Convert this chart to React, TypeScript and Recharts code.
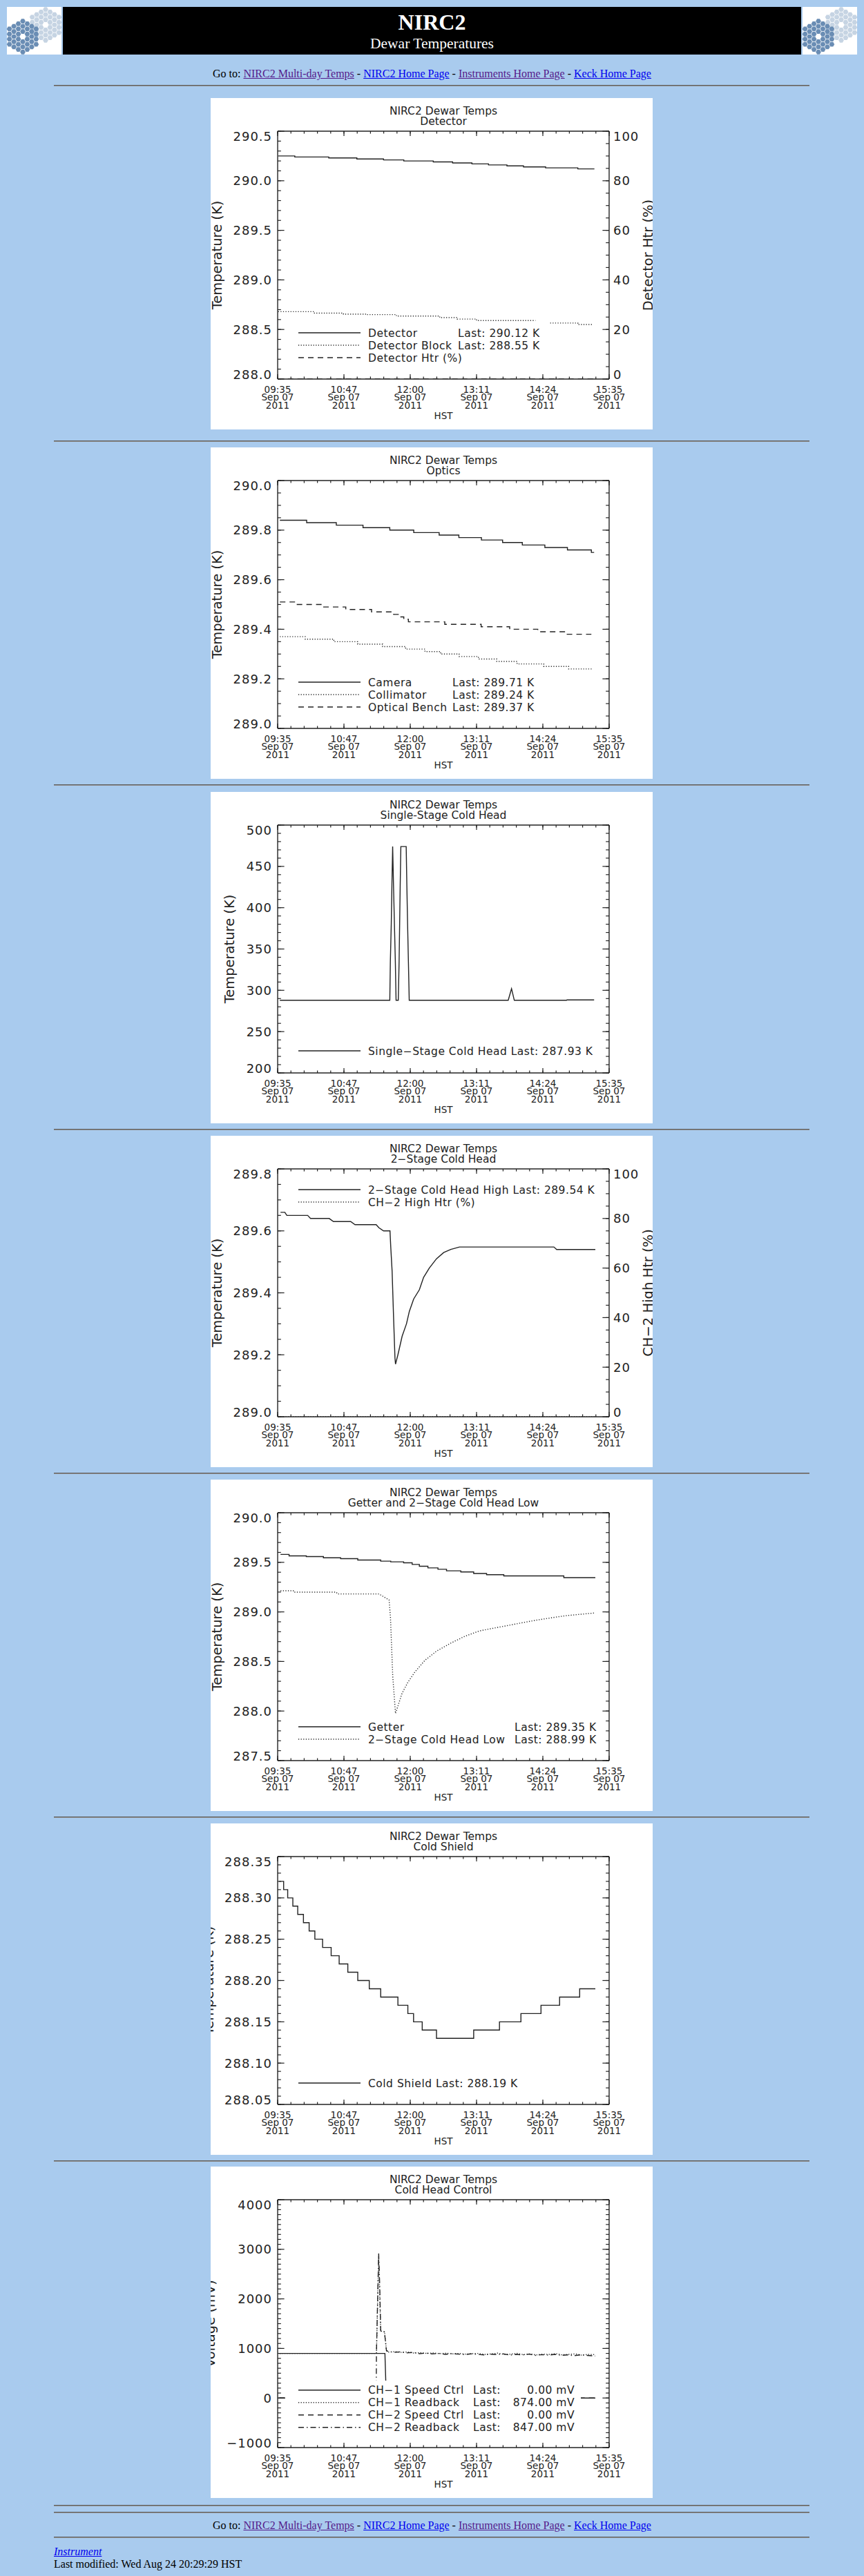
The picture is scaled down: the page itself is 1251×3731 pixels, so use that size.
import React from 'react'
import { LineChart, Line, XAxis, YAxis } from 'recharts'

type Pt = [number, number | null]

// time axis: minutes after 09:35 HST, Sep 07 2011
const timeTicks = [0, 72, 144, 216, 288, 360]
const timeLabels = ['09:35', '10:47', '12:00', '13:11', '14:24', '15:35']
const dateLabel = 'Sep 07'
const yearLabel = '2011'
const pctTicks = [0, 20, 40, 60, 80, 100]

// 1. Detector
const detectorTicks = [288.0, 288.5, 289.0, 289.5, 290.0, 290.5]
const detector: Pt[] = [[0.5, 290.25], [18.6, 290.24], [55.5, 290.23], [86, 290.22], [115, 290.21], [137, 290.2], [169, 290.19], [190, 290.18], [211, 290.17], [229, 290.16], [249, 290.15], [267, 290.14], [291, 290.13], [326, 290.12], [344, 290.12]]
const detectorBlock: Pt[] = [[0.5, 288.68], [40, 288.665], [71.5, 288.655], [97, 288.65], [129, 288.635], [176, 288.62], [195, 288.605], [216, 288.59], [280, 288.59], [280.5, null], [296, 288.565], [326, 288.55], [342, 288.55]]
const detectorHtr: Pt[] = [[0.5, 0], [344, 0]]

// 2. Optics
const opticsTicks = [289.0, 289.2, 289.4, 289.6, 289.8, 290.0]
const camera: Pt[] = [[2.4, 289.84], [31.5, 289.83], [63.7, 289.82], [92.7, 289.81], [121.8, 289.8], [147.8, 289.79], [175.4, 289.78], [196.8, 289.77], [221.3, 289.76], [244.3, 289.75], [265.7, 289.74], [290.2, 289.73], [314.7, 289.72], [340.7, 289.71], [343.7, 289.71]]
const collimator: Pt[] = [[2.4, 289.37], [30, 289.36], [61, 289.35], [87, 289.34], [114, 289.33], [139, 289.32], [160, 289.31], [177, 289.3], [197, 289.29], [218, 289.28], [238, 289.27], [260, 289.26], [289, 289.25], [316, 289.24], [342, 289.24]]
const opticalBench: Pt[] = [[2.4, 289.51], [19.3, 289.5], [50, 289.49], [74, 289.48], [102, 289.47], [126, 289.46], [131, 289.45], [137, 289.44], [142, 289.43], [181.5, 289.42], [221, 289.41], [252, 289.4], [282.5, 289.39], [313, 289.38], [340.7, 289.38]]

// 3. Single-stage cold head
const singleTicks = [200, 250, 300, 350, 400, 450, 500]
const singleStage: Pt[] = [[2.4, 287.9], [121.8, 287.9], [122.4, 335], [123.4, 381], [124.1, 428], [124.9, 474], [125.8, 428], [126.8, 381], [127.8, 335], [128.6, 287.9], [131, 287.9], [131.9, 335], [132.5, 381], [133.1, 428], [133.8, 474], [139.6, 474], [140.3, 428], [141.1, 381], [142, 335], [142.9, 287.9], [250.4, 287.9], [254, 302], [257, 287.9], [313.7, 287.9], [314.2, 288.4], [343.7, 288.4]]

// 4. 2-stage cold head
const stage2Ticks = [289.0, 289.2, 289.4, 289.6, 289.8]
const coldHeadHigh: Pt[] = [[3.1, 289.66], [7.8, 289.66], [10, 289.65], [32.6, 289.65], [35.7, 289.64], [56, 289.64], [60.6, 289.63], [79.3, 289.63], [84, 289.62], [107, 289.62], [110, 289.61], [115, 289.6], [122, 289.6], [122.8, 289.55], [124.3, 289.47], [125.9, 289.32], [127.4, 289.19], [128, 289.17], [130.6, 289.2], [135.2, 289.26], [139.9, 289.3], [143, 289.34], [147.7, 289.38], [153.9, 289.41], [158.5, 289.45], [164.7, 289.48], [172.5, 289.51], [180.3, 289.53], [188, 289.54], [197.4, 289.548], [300, 289.548], [303, 289.54], [345, 289.54]]
const highHtr: Pt[] = [[3.1, 0], [345, 0]]

// 5. Getter and 2-stage cold head low
const getterTicks = [287.5, 288.0, 288.5, 289.0, 289.5, 290.0]
const getter: Pt[] = [[3.1, 289.58], [12.4, 289.565], [31.1, 289.558], [49.7, 289.546], [68.4, 289.537], [87, 289.523], [111.9, 289.512], [122.8, 289.505], [136.8, 289.495], [146.1, 289.479], [153.9, 289.46], [163.2, 289.444], [174.1, 289.43], [183.4, 289.414], [198.9, 289.403], [212.9, 289.387], [226.9, 289.375], [245.6, 289.363], [310.8, 289.345], [345, 289.345]]
const coldHeadLow: Pt[] = [[3.1, 289.213], [17, 289.213], [17.5, 289.199], [63.7, 289.199], [65, 289.181], [110, 289.181], [121, 289.12], [122.5, 288.95], [125, 288.35], [128, 287.975], [130.6, 288.05], [135, 288.176], [141.4, 288.29], [149.2, 288.396], [160, 288.512], [172.5, 288.604], [188, 288.685], [203.6, 288.755], [219.1, 288.808], [234.7, 288.836], [250.2, 288.863], [265.8, 288.891], [281.3, 288.917], [296.9, 288.94], [312.4, 288.961], [328, 288.975], [345, 288.99]]

// 6. Cold shield
const shieldTicks = [288.05, 288.1, 288.15, 288.2, 288.25, 288.3, 288.35]
const coldShield: Pt[] = [[1.6, 288.32], [6.5, 288.31], [10.9, 288.3], [16.5, 288.29], [21.8, 288.28], [28, 288.27], [34.2, 288.26], [40.4, 288.25], [48.8, 288.24], [58.1, 288.23], [66.8, 288.22], [76.2, 288.21], [87, 288.2], [99.5, 288.19], [111.9, 288.18], [130.6, 288.17], [141.4, 288.16], [147.6, 288.15], [157, 288.14], [172.5, 288.13], [212.9, 288.14], [240.9, 288.15], [264.2, 288.16], [286, 288.17], [306.2, 288.18], [328, 288.19], [345, 288.19]]

// 7. Cold head control (mV)
const voltTicks = [-1000, 0, 1000, 2000, 3000, 4000]
const ch1Speed: Pt[] = [[2, 900], [116.5, 900], [118, 0], [345, 0]]
const ch1Readback: Pt[] = [[2, 900], [107.3, 900], [109.7, 2850], [111.9, 1350], [116, 1340], [118.2, 960], [120, 925], [127, 935], [134, 920], [141, 930], [148, 905], [155, 915], [162, 900], [169, 910], [176, 895], [183, 905], [190, 890], [197, 900], [204, 885], [211, 895], [218, 900], [225, 880], [232, 890], [239, 905], [246, 880], [253, 885], [260, 900], [267, 875], [274, 890], [281, 870], [288, 885], [295, 880], [302, 895], [309, 870], [316, 880], [323, 890], [330, 865], [337, 880], [345, 874]]
const ch2Speed: Pt[] = [[2, 0], [345, 0]]
const ch2Readback: Pt[] = [[2, 0], [107, 0], [107.3, 900], [109.7, 2920], [110.8, 2300], [111.9, 1350], [116, 1330], [118.2, 950], [120, 940], [126, 920], [133, 930], [140, 910], [147, 920], [154, 895], [161, 905], [168, 890], [175, 900], [182, 880], [189, 895], [196, 885], [203, 875], [210, 890], [217, 880], [224, 870], [231, 885], [238, 875], [245, 890], [252, 865], [259, 880], [266, 870], [273, 885], [280, 860], [287, 875], [294, 865], [301, 880], [308, 860], [315, 870], [322, 855], [329, 870], [336, 860], [345, 847]]

const INK = '#222'
const SANS = '"DejaVu Sans", Verdana, sans-serif'
const SERIF = '"Liberation Serif", "Times New Roman", serif'
const W = 640
const H = 480
const PX0 = 97
const PX1 = 577
const PY0 = 48
const PY1 = 407
const DASH: Record<string, string | undefined> = {
  solid: undefined,
  dot: '1.2 2.4',
  dash: '8 6',
  dashdot: '8 4 1.5 4',
}

function minorTicks(major: number[], n: number) {
  const step = (major[1] - major[0]) / n
  const lo = major[0]
  const hi = major[major.length - 1]
  const out: number[] = []
  for (let v = lo; v <= hi + step / 2; v += step) out.push(+v.toFixed(6))
  return out
}

const EmptyTick = () => <g />

const TimeTick = (p: any) => {
  const i = timeTicks.indexOf(p.payload.value)
  return (
    <text x={p.x} y={p.y} textAnchor="middle" fontFamily={SANS} fontSize={13.5} fill={INK}>
      <tspan x={p.x} dy={19.7}>{timeLabels[i]}</tspan>
      <tspan x={p.x} dy={11.6}>{dateLabel}</tspan>
      <tspan x={p.x} dy={11.7}>{yearLabel}</tspan>
    </text>
  )
}

function yTick(ticks: number[], digits: number, side: 'l' | 'r') {
  const lo = ticks[0]
  const hi = ticks[ticks.length - 1]
  return (p: any) => {
    const v = p.payload.value
    let shift = 0
    if (Math.abs(v - hi) < 1e-9) shift = 7.5
    if (Math.abs(v - lo) < 1e-9) shift = -6.5
    const txt = v < 0 ? '\u2212' + Math.abs(v).toFixed(digits) : v.toFixed(digits)
    return (
      <text x={p.x} y={p.y + shift + 6.6} textAnchor={side === 'l' ? 'end' : 'start'}
        fontFamily={SANS} fontSize={18} letterSpacing={1} fill={INK}>
        {txt}
      </text>
    )
  }
}

type Axis = { ticks: number[]; minor: number; digits: number }
type Series = { pts: Pt[]; style: string; curve: 'linear' | 'stepAfter'; right?: boolean }
type LegendDef = {
  names: string[]
  styles: string[]
  lasts?: string[]
  lastX?: number
  values?: string[]
  top: number
  box?: [number, number, number, number]
}
type PanelProps = {
  top: number
  subtitle: string
  yTitle: string
  yTitleX: number
  left: Axis
  right?: Axis
  rightTitle?: string
  series: Series[]
  legend: LegendDef
}

function Legend({ lg }: { lg: LegendDef }) {
  return (
    <g fontFamily={SANS} fontSize={15.5} letterSpacing={0.5} fill={INK}>
      {lg.box && <rect x={lg.box[0]} y={lg.box[1]} width={lg.box[2]} height={lg.box[3]} fill="#fff" />}
      {lg.names.map((name, i) => {
        const cy = lg.top + i * 18
        const last = lg.lasts ? lg.lasts[i] : ''
        return (
          <g key={i}>
            <line x1={127} x2={217} y1={cy} y2={cy} stroke={INK} strokeWidth={1.4} strokeDasharray={DASH[lg.styles[i]]} />
            <text x={228} y={cy + 5.6}>{lg.lastX || !last ? name : name + ' ' + last}</text>
            {lg.lastX && last && <text x={lg.lastX} y={cy + 5.6}>{last}</text>}
            {lg.values && <text x={527} y={cy + 5.6} textAnchor="end">{lg.values[i]}</text>}
          </g>
        )
      })}
    </g>
  )
}

function Panel({ top, subtitle, yTitle, yTitleX, left, right, rightTitle, series, legend }: PanelProps) {
  const rAx = right ?? left
  const lDom: [number, number] = [left.ticks[0], left.ticks[left.ticks.length - 1]]
  const rDom: [number, number] = [rAx.ticks[0], rAx.ticks[rAx.ticks.length - 1]]
  const xMinor = minorTicks(timeTicks, 5)
  const lMinor = minorTicks(left.ticks, left.minor)
  const rMinor = minorTicks(rAx.ticks, rAx.minor)
  const tickLine = { stroke: INK, strokeWidth: 1.2 }
  const axisLine = { stroke: INK, strokeWidth: 1.4 }
  const cx = (PX0 + PX1) / 2
  const cy = (PY0 + PY1) / 2
  return (
    <div style={{ position: 'absolute', left: 305, top, width: W, height: H, background: '#fff', overflow: 'hidden' }}>
      <LineChart width={W} height={H} margin={{ top: PY0, right: W - PX1, bottom: H - PY1, left: PX0 }}>
        <XAxis xAxisId="b" dataKey="t" type="number" domain={[0, 360]} allowDataOverflow ticks={timeTicks}
          interval={0} height={0.01} tickSize={-7} tickMargin={7} tick={TimeTick} tickLine={tickLine} axisLine={axisLine} stroke={INK} />
        <XAxis xAxisId="bm" dataKey="t" type="number" domain={[0, 360]} allowDataOverflow ticks={xMinor}
          interval={0} height={0.01} tickSize={-3.6} tick={EmptyTick} tickLine={tickLine} axisLine={false} stroke={INK} />
        <XAxis xAxisId="t" orientation="top" dataKey="t" type="number" domain={[0, 360]} allowDataOverflow ticks={timeTicks}
          interval={0} height={0.01} tickSize={-7} tick={EmptyTick} tickLine={tickLine} axisLine={axisLine} stroke={INK} />
        <XAxis xAxisId="tm" orientation="top" dataKey="t" type="number" domain={[0, 360]} allowDataOverflow ticks={xMinor}
          interval={0} height={0.01} tickSize={-3.6} tick={EmptyTick} tickLine={tickLine} axisLine={false} stroke={INK} />
        <YAxis yAxisId="l" type="number" domain={lDom} allowDataOverflow ticks={left.ticks} interval={0} width={0.01}
          tickSize={-9.6} tickMargin={17.6} tick={yTick(left.ticks, left.digits, 'l')} tickLine={tickLine} axisLine={axisLine} stroke={INK} />
        <YAxis yAxisId="lm" type="number" domain={lDom} allowDataOverflow ticks={lMinor} interval={0} width={0.01}
          tickSize={-4.8} tick={EmptyTick} tickLine={tickLine} axisLine={false} stroke={INK} />
        <YAxis yAxisId="r" orientation="right" type="number" domain={rDom} allowDataOverflow ticks={rAx.ticks} interval={0} width={0.01}
          tickSize={-9.6} tickMargin={15.6} tick={right ? yTick(right.ticks, right.digits, 'r') : EmptyTick}
          tickLine={tickLine} axisLine={axisLine} stroke={INK} />
        <YAxis yAxisId="rm" orientation="right" type="number" domain={rDom} allowDataOverflow ticks={rMinor} interval={0} width={0.01}
          tickSize={-4.8} tick={EmptyTick} tickLine={tickLine} axisLine={false} stroke={INK} />
        {series.map((s, i) => (
          <Line key={i} xAxisId="b" yAxisId={s.right ? 'r' : 'l'} data={s.pts.map(([t, v]) => ({ t, v }))}
            dataKey="v" type={s.curve} stroke={INK} strokeWidth={1.4} strokeDasharray={DASH[s.style]}
            dot={false} activeDot={false} isAnimationActive={false} />
        ))}
      </LineChart>
      <svg width={W} height={H} style={{ position: 'absolute', left: 0, top: 0 }}>
        <g fontFamily={SANS} fill={INK}>
          <text x={cx} y={23.5} textAnchor="middle" fontSize={15.5}>NIRC2 Dewar Temps</text>
          <text x={cx} y={38.5} textAnchor="middle" fontSize={15.5}>{subtitle}</text>
          <text x={cx} y={465} textAnchor="middle" fontSize={13.5}>HST</text>
          <text transform={`translate(${yTitleX},${cy}) rotate(-90)`} textAnchor="middle" dy="0.25em" fontSize={19.5}>{yTitle}</text>
          {rightTitle && (
            <text transform={`translate(635,${cy}) rotate(-90)`} textAnchor="middle" dy="0.25em" fontSize={19.5}>{rightTitle}</text>
          )}
        </g>
        <Legend lg={legend} />
      </svg>
    </div>
  )
}

function Mirror({ cx, cy, s, fill }: { cx: number; cy: number; s: number; fill: string }) {
  const cells: React.ReactNode[] = []
  for (let q = -3; q <= 3; q++) {
    for (let r = -3; r <= 3; r++) {
      const d = Math.max(Math.abs(q), Math.abs(r), Math.abs(q + r))
      if (d === 0 || d > 3) continue
      const x = cx + 1.5 * s * q
      const y = cy + Math.sqrt(3) * s * (r + q / 2)
      const pts = [0, 1, 2, 3, 4, 5]
        .map((k) => {
          const a = (Math.PI / 3) * k
          return `${(x + s * 0.9 * Math.cos(a)).toFixed(2)},${(y + s * 0.9 * Math.sin(a)).toFixed(2)}`
        })
        .join(' ')
      cells.push(<polygon key={`${q},${r}`} points={pts} fill={fill} />)
    }
  }
  return <g>{cells}</g>
}

function Logo({ x, id }: { x: number; id: string }) {
  return (
    <g>
      <clipPath id={id}>
        <rect x={x} y={10} width={79} height={69} />
      </clipPath>
      <rect x={x} y={10} width={79} height={69} fill="#fff" />
      <g clipPath={`url(#${id})`}>
        <Mirror cx={x + 56} cy={36} s={4.3} fill="#c6d4e3" />
        <Mirror cx={x + 23} cy={53} s={4.3} fill="#6a8db4" />
      </g>
    </g>
  )
}

const linkVisited = { color: '#551a8b', textDecoration: 'underline' }
const linkNew = { color: '#0000ee', textDecoration: 'underline' }

function GoTo({ top }: { top: number }) {
  return (
    <div style={{ position: 'absolute', left: 0, top, width: 1251, textAlign: 'center', lineHeight: '18px', fontSize: 16, fontFamily: SERIF, color: '#000' }}>
      Go to: <a href="#" style={linkVisited}>NIRC2 Multi-day Temps</a> - <a href="#" style={linkNew}>NIRC2 Home Page</a> -{' '}
      <a href="#" style={linkVisited}>Instruments Home Page</a> - <a href="#" style={linkNew}>Keck Home Page</a>
    </div>
  )
}

function Rule({ top }: { top: number }) {
  return <div style={{ position: 'absolute', left: 78, top, width: 1094, height: 0, borderTop: '1px solid #5e5e5e', borderBottom: '1px solid #8e8e8e' }} />
}

const panelTops = [142, 648, 1147, 1645, 2143, 2641, 3138]
const ruleTops = [123, 638, 1136, 1635, 2133, 2631, 3129, 3628, 3638, 3674]

export default function App() {
  return (
    <div style={{ position: 'relative', width: 1251, height: 3731, overflow: 'hidden', fontFamily: SERIF }}>
      <style>{'html,body{margin:0;padding:0;background:#a9cbee;}'}</style>
      <svg width={1251} height={90} style={{ position: 'absolute', left: 0, top: 0 }}>
        <Logo x={10} id="logoL" />
        <rect x={91} y={10} width={1069} height={69} fill="#000" />
        <Logo x={1162} id="logoR" />
        <text x={625.5} y={43} textAnchor="middle" fontFamily={SERIF} fontWeight="bold" fontSize={32} fill="#fff">NIRC2</text>
        <text x={625.5} y={70} textAnchor="middle" fontFamily={SERIF} fontSize={21.5} fill="#fff">Dewar Temperatures</text>
      </svg>
      <GoTo top={98} />
      {ruleTops.map((t) => <Rule key={t} top={t} />)}

      <Panel top={panelTops[0]} subtitle="Detector" yTitle="Temperature (K)" yTitleX={11}
        left={{ ticks: detectorTicks, minor: 5, digits: 1 }} right={{ ticks: pctTicks, minor: 4, digits: 0 }} rightTitle="Detector Htr (%)"
        series={[
          { pts: detector, style: 'solid', curve: 'stepAfter' },
          { pts: detectorBlock, style: 'dot', curve: 'stepAfter' },
          { pts: detectorHtr, style: 'dash', curve: 'linear', right: true },
        ]}
        legend={{ names: ['Detector', 'Detector Block', 'Detector Htr (%)'], styles: ['solid', 'dot', 'dash'], lasts: ['Last: 290.12 K', 'Last: 288.55 K', ''], lastX: 358, top: 340 }} />

      <Panel top={panelTops[1]} subtitle="Optics" yTitle="Temperature (K)" yTitleX={11}
        left={{ ticks: opticsTicks, minor: 4, digits: 1 }}
        series={[
          { pts: camera, style: 'solid', curve: 'stepAfter' },
          { pts: collimator, style: 'dot', curve: 'stepAfter' },
          { pts: opticalBench, style: 'dash', curve: 'stepAfter' },
        ]}
        legend={{ names: ['Camera', 'Collimator', 'Optical Bench'], styles: ['solid', 'dot', 'dash'], lasts: ['Last: 289.71 K', 'Last: 289.24 K', 'Last: 289.37 K'], lastX: 350, top: 340 }} />

      <Panel top={panelTops[2]} subtitle="Single-Stage Cold Head" yTitle="Temperature (K)" yTitleX={29.5}
        left={{ ticks: singleTicks, minor: 5, digits: 0 }}
        series={[{ pts: singleStage, style: 'solid', curve: 'linear' }]}
        legend={{ names: ['Single\u2212Stage Cold Head'], styles: ['solid'], lasts: ['Last: 287.93 K'], top: 375 }} />

      <Panel top={panelTops[3]} subtitle={'2\u2212Stage Cold Head'} yTitle="Temperature (K)" yTitleX={11}
        left={{ ticks: stage2Ticks, minor: 4, digits: 1 }} right={{ ticks: pctTicks, minor: 4, digits: 0 }} rightTitle={'CH\u22122 High Htr (%)'}
        series={[
          { pts: coldHeadHigh, style: 'solid', curve: 'linear' },
          { pts: highHtr, style: 'dot', curve: 'linear', right: true },
        ]}
        legend={{ names: ['2\u2212Stage Cold Head High', 'CH\u22122 High Htr (%)'], styles: ['solid', 'dot'], lasts: ['Last: 289.54 K', ''], top: 78 }} />

      <Panel top={panelTops[4]} subtitle={'Getter and 2\u2212Stage Cold Head Low'} yTitle="Temperature (K)" yTitleX={11}
        left={{ ticks: getterTicks, minor: 5, digits: 1 }}
        series={[
          { pts: getter, style: 'solid', curve: 'stepAfter' },
          { pts: coldHeadLow, style: 'dot', curve: 'linear' },
        ]}
        legend={{ names: ['Getter', '2\u2212Stage Cold Head Low'], styles: ['solid', 'dot'], lasts: ['Last: 289.35 K', 'Last: 288.99 K'], lastX: 440, top: 358 }} />

      <Panel top={panelTops[5]} subtitle="Cold Shield" yTitle="Temperature (K)" yTitleX={-1}
        left={{ ticks: shieldTicks, minor: 5, digits: 2 }}
        series={[{ pts: coldShield, style: 'solid', curve: 'stepAfter' }]}
        legend={{ names: ['Cold Shield'], styles: ['solid'], lasts: ['Last: 288.19 K'], top: 376 }} />

      <Panel top={panelTops[6]} subtitle="Cold Head Control" yTitle="Voltage (mV)" yTitleX={1}
        left={{ ticks: voltTicks, minor: 10, digits: 0 }}
        series={[
          { pts: ch1Speed, style: 'solid', curve: 'linear' },
          { pts: ch1Readback, style: 'dot', curve: 'linear' },
          { pts: ch2Speed, style: 'dash', curve: 'linear' },
          { pts: ch2Readback, style: 'dashdot', curve: 'linear' },
        ]}
        legend={{
          names: ['CH\u22121 Speed Ctrl', 'CH\u22121 Readback', 'CH\u22122 Speed Ctrl', 'CH\u22122 Readback'],
          styles: ['solid', 'dot', 'dash', 'dashdot'],
          lasts: ['Last:', 'Last:', 'Last:', 'Last:'], lastX: 380,
          values: ['0.00 mV', '874.00 mV', '0.00 mV', '847.00 mV'],
          top: 323.7, box: [108, 310, 428, 86],
        }} />

      <GoTo top={3649} />
      <div style={{ position: 'absolute', left: 78, top: 3687, lineHeight: '18px', fontSize: 16 }}>
        <a href="#" style={{ ...linkNew, fontStyle: 'italic' }}>Instrument</a>
      </div>
      <div style={{ position: 'absolute', left: 78, top: 3705, lineHeight: '18px', fontSize: 16, color: '#000' }}>
        Last modified: Wed Aug 24 20:29:29 HST
      </div>
    </div>
  )
}
